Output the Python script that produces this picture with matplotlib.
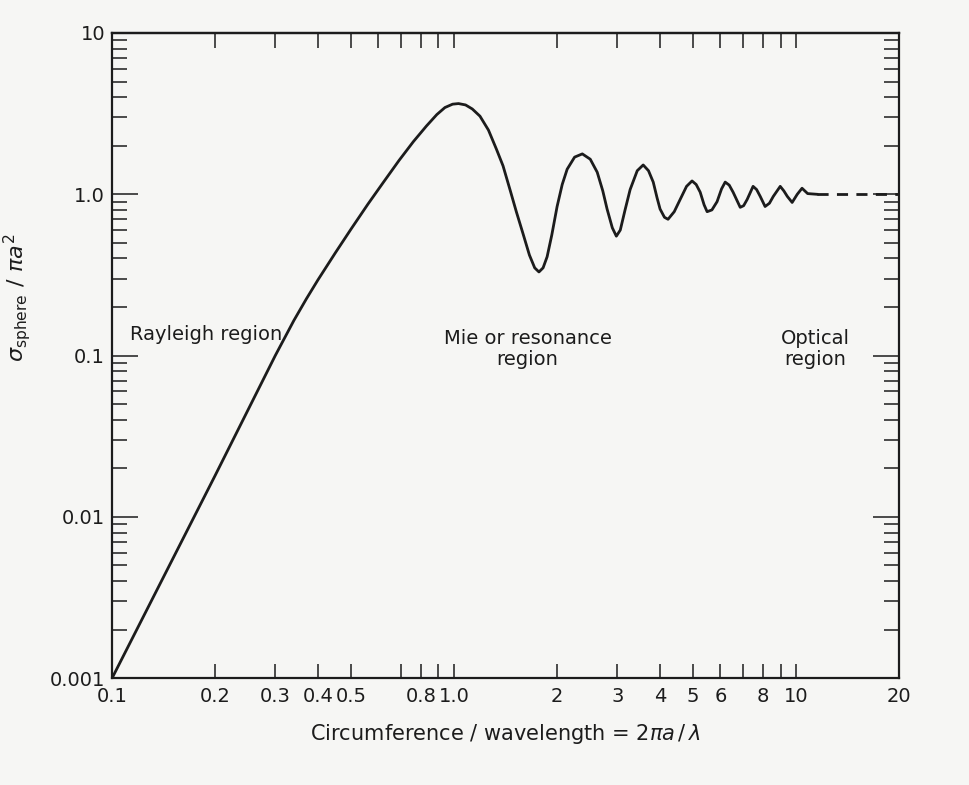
import matplotlib
matplotlib.use("Agg")
import matplotlib.pyplot as plt
from matplotlib.ticker import FixedLocator, FixedFormatter, LogLocator, NullFormatter

# curve: sigma / (pi a^2) vs 2*pi*a / lambda
x_ratio = [0.10, 0.20, 0.30, 0.34, 0.37, 0.40, 0.45, 0.50, 0.56, 0.62, 0.69,
           0.76, 0.83, 0.89, 0.94, 0.99, 1.03, 1.08, 1.13, 1.19, 1.26, 1.33,
           1.39, 1.46, 1.52, 1.59, 1.66, 1.72, 1.77, 1.82, 1.87, 1.93, 2.00,
           2.07, 2.14, 2.25, 2.37, 2.50, 2.62, 2.72, 2.80, 2.90, 2.98, 3.06,
           3.16, 3.27, 3.43, 3.57, 3.70, 3.82, 3.92, 4.00, 4.12, 4.22, 4.40,
           4.58, 4.78, 4.96, 5.10, 5.24, 5.38, 5.49, 5.67, 5.87, 6.05, 6.20,
           6.37, 6.54, 6.86, 7.02, 7.19, 7.48, 7.66, 7.85, 8.11, 8.35, 8.57,
           8.98, 9.20, 9.42, 9.73, 10.07, 10.4, 10.8, 11.5]
sigma_norm = [0.001, 0.018, 0.10, 0.165, 0.225, 0.295, 0.435, 0.61, 0.87, 1.18, 1.62,
              2.12, 2.65, 3.12, 3.45, 3.62, 3.65, 3.58, 3.38, 3.05, 2.50, 1.90,
              1.50, 1.05, 0.78, 0.57, 0.42, 0.35, 0.33, 0.35, 0.41, 0.56, 0.84,
              1.15, 1.43, 1.70, 1.78, 1.65, 1.37, 1.05, 0.81, 0.62, 0.55, 0.60,
              0.80, 1.07, 1.40, 1.52, 1.40, 1.19, 0.95, 0.81, 0.72, 0.70, 0.78,
              0.93, 1.12, 1.21, 1.15, 1.03, 0.86, 0.78, 0.80, 0.90, 1.08, 1.19,
              1.14, 1.03, 0.83, 0.85, 0.93, 1.12, 1.07, 0.97, 0.84, 0.88, 0.97,
              1.12, 1.05, 0.97, 0.89, 1.00, 1.09, 1.01, 1.00]

# optical limit (dashed)
optical_x = [11.5, 20]
optical_y = [1.0, 1.0]

x_ticks_bottom = [0.1, 0.2, 0.3, 0.4, 0.5, 0.7, 0.8, 0.9, 1.0, 2, 3, 4, 5, 6, 7, 8, 9, 10, 20]
x_labels_bottom = ['0.1', '0.2', '0.3', '0.4', '0.5', '', '0.8', '', '1.0', '2', '3', '4',
                   '5', '6', '', '8', '', '10', '20']
x_ticks_top = [0.2, 0.3, 0.4, 0.5, 0.6, 0.7, 0.8, 0.9, 1.0, 2, 3, 4, 5, 6, 7, 8, 9, 10]
y_ticks = [0.001, 0.01, 0.1, 1.0, 10]
y_labels = ['0.001', '0.01', '0.1', '1.0', '10']

ink = '#1c1c1c'
paper = '#f6f6f4'

fig = plt.figure(figsize=(9.7, 7.85), dpi=100, facecolor=paper)
ax = fig.add_axes([0.1155, 0.136, 0.8115, 0.822])
ax.set_facecolor(paper)

ax.plot(x_ratio, sigma_norm, color=ink, lw=2.0, solid_joinstyle='round')
ax.plot(optical_x, optical_y, color=ink, lw=2.0, dashes=(4, 3))

ax.set_xscale('log')
ax.set_yscale('log')
ax.set_xlim(0.1, 20)
ax.set_ylim(0.001, 10)

for s in ax.spines.values():
    s.set_linewidth(1.6)
    s.set_color(ink)

# x ticks
ax.xaxis.set_major_locator(FixedLocator(x_ticks_bottom))
ax.xaxis.set_major_formatter(FixedFormatter(x_labels_bottom))
ax.xaxis.set_minor_locator(FixedLocator([]))
ax.tick_params(axis='x', which='major', direction='in', length=10, width=1.1,
               colors=ink, labelsize=14, pad=6)

top = ax.secondary_xaxis('top')
top.xaxis.set_major_locator(FixedLocator(x_ticks_top))
top.xaxis.set_major_formatter(NullFormatter())
top.xaxis.set_minor_locator(FixedLocator([]))
top.tick_params(direction='in', length=11, width=1.1, colors=ink)
top.spines['top'].set_linewidth(1.6)

# y ticks
ax.yaxis.set_major_locator(FixedLocator(y_ticks))
ax.yaxis.set_major_formatter(FixedFormatter(y_labels))
ax.yaxis.set_minor_locator(LogLocator(base=10, subs=range(2, 10), numticks=20))
ax.yaxis.set_minor_formatter(NullFormatter())
ax.tick_params(axis='y', which='major', direction='in', length=19, width=1.1,
               colors=ink, labelsize=14, left=True, right=True, pad=5)
ax.tick_params(axis='y', which='minor', direction='in', length=11, width=1.1,
               colors=ink, left=True, right=True)

ax.set_xlabel(r'Circumference / wavelength = 2$\pi a\,/\,\lambda$', fontsize=15, color=ink, labelpad=12)
ax.set_ylabel(r'$\sigma_{\rm sphere}\ /\ \pi a^2$', fontsize=16, color=ink)
ax.yaxis.set_label_coords(-0.1, 0.59)

# region labels
ax.text(0.113, 0.135, 'Rayleigh region', fontsize=14, color=ink, ha='left', va='center')
ax.text(1.64, 0.11, 'Mie or resonance\nregion', fontsize=14, color=ink, ha='center',
        va='center', linespacing=1.1)
ax.text(11.4, 0.11, 'Optical\nregion', fontsize=14, color=ink, ha='center',
        va='center', linespacing=1.1)

fig.savefig('out.png', dpi=100, facecolor=paper)
